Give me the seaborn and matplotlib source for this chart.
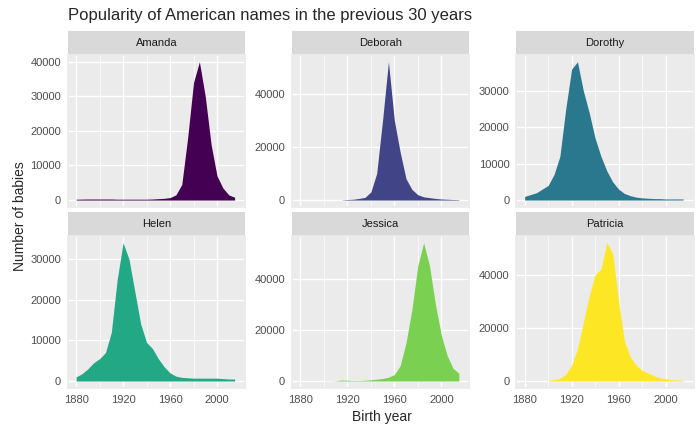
import numpy as np
import pandas as pd
import seaborn as sns
import matplotlib.pyplot as plt
from matplotlib.patches import Rectangle

sns.set_theme(style="darkgrid", rc={
    "axes.facecolor": "#EBEBEB", "grid.color": "white", "axes.edgecolor": "#EBEBEB",
    "xtick.color": "#4D4D4D", "ytick.color": "#4D4D4D",
})
plt.rcParams["font.family"] = ["Liberation Sans", "DejaVu Sans"]

years = list(range(1880, 2016, 5))
names = ["Amanda", "Deborah", "Dorothy", "Helen", "Jessica", "Patricia"]
nan = np.nan
amanda = [240, 270, 300, 300, 300, 300, 300, 250, 250, 250, 250, 250, 250, 300,
          400, 500, 700, 1500, 4500, 18000, 34000, 40000, 30000, 16000, 7000, 3500, 1500, 800]
deborah = [nan] * 7 + [50, 200, 300, 600, 1000, 3000, 10000, 30000, 52000, 30000, 18000,
                       8000, 4000, 2000, 1200, 900, 600, 400, 300, 200, 150]
dorothy = [1000, 1500, 2000, 3000, 4000, 7000, 12000, 25000, 36000, 38000, 30000, 24000,
           17000, 12000, 8000, 5000, 3000, 1800, 1200, 800, 600, 500, 400, 400, 300, 300, 300, 300]
helen = [1000, 1800, 3000, 4500, 5500, 7000, 12000, 25000, 34000, 30000, 22000, 14000,
         9500, 8000, 5500, 3500, 2000, 1200, 900, 800, 700, 700, 700, 700, 700, 600, 500, 500]
jessica = [nan] * 4 + [30, 50, 100, 400, 300, 200, 200, 300, 500, 700, 1000, 1500, 2500,
                       6000, 15000, 28000, 45000, 54000, 45000, 30000, 18000, 10000, 5000, 3000]
patricia = [nan] * 4 + [300, 500, 1000, 2500, 6000, 12000, 22000, 32000, 40000, 42000, 52000,
                        48000, 30000, 15000, 9000, 6000, 4000, 3000, 2000, 1200, 800, 500, 400, 300]
series = [amanda, deborah, dorothy, helen, jessica, patricia]
colors = ["#440154", "#414487", "#2A788E", "#22A884", "#7AD151", "#FDE725"]

df = pd.concat([pd.DataFrame({"year": years, "n": s, "name": nm})
                for nm, s in zip(names, series)])

fig, axs = plt.subplots(2, 3, figsize=(7, 4.32), dpi=100, sharex=True)
fig.subplots_adjust(left=0.097, right=0.991, top=0.873, bottom=0.102, wspace=0.265, hspace=0.19)

for ax, nm, c in zip(axs.flat, names, colors):
    d = df[df["name"] == nm]
    ax.fill_between(d["year"], 0, d["n"], color=c, lw=0)
    ax.set_xlim(1873, 2024)
    ax.set_xticks([1880, 1920, 1960, 2000])
    ax.set_xticks([1900, 1940, 1980], minor=True)
    ax.grid(True, which="major", lw=1.0)
    ax.grid(True, which="minor", lw=0.5)
    top = np.nanmax(d["n"])
    ax.set_ylim(-top * 0.05, top * 1.05)
    ax.yaxis.set_major_locator(plt.MaxNLocator(5, steps=[1, 2, 4, 5, 10]))
    ax.tick_params(labelsize=8, length=3, width=0.8, pad=2, color="#333333")
    ax.tick_params(which="minor", length=0)
    ax.set_xlabel("")
    ax.set_ylabel("")
    ax.add_patch(Rectangle((0, 1), 1, 0.155, transform=ax.transAxes, clip_on=False,
                           facecolor="#D9D9D9", edgecolor="none"))
    ax.text(0.5, 1.077, nm, transform=ax.transAxes, ha="center", va="center",
            fontsize=8, color="#1A1A1A")
    ax.tick_params(axis="x", labelbottom=ax in axs[1])

fig.text(0.097, 0.965, "Popularity of American names in the previous 30 years",
         fontsize=12, ha="left", va="center")
fig.text(0.545, 0.025, "Birth year", fontsize=10, ha="center")
fig.text(0.018, 0.5, "Number of babies", fontsize=10, va="center", rotation=90)
fig.savefig("out.png", dpi=100)
